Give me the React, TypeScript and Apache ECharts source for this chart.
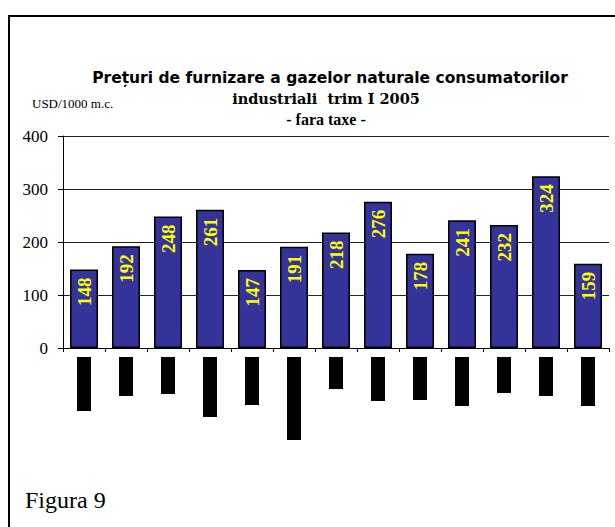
import React, { useEffect, useRef } from "react";
import * as echarts from "echarts";

// Categories (country names are hidden in the reference, drawn as black boxes)
const categories = ["C1", "C2", "C3", "C4", "C5", "C6", "C7", "C8", "C9", "C10", "C11", "C12", "C13"];
// Prices, USD/1000 m.c.
const prices = [148, 192, 248, 261, 147, 191, 218, 276, 178, 241, 232, 324, 159];
// Lengths of the black (hidden) category label boxes under the axis
const labelBoxLengths = [54, 39, 37, 60, 48, 83, 32, 44, 43, 49, 36, 39, 49];
const yTicks = [0, 100, 200, 300, 400];

const titleLine1 = "Prețuri de furnizare a gazelor naturale consumatorilor";
const titleLine2 = "industriali  trim I 2005";
const titleLine3 = "- fara taxe -";
const unitLabel = "USD/1000 m.c.";
const figureLabel = "Figura 9";

const SERIF = "Liberation Serif, Times New Roman, serif";

export default function App() {
  const ref = useRef<HTMLDivElement>(null);
  useEffect(() => {
    if (!ref.current) return;
    const chart = echarts.init(ref.current, null, { renderer: "svg" });
    chart.setOption({
      animation: false,
      backgroundColor: "#ffffff",
      grid: [
        { left: 63, top: 136, width: 546, height: 212 },
        { left: 63, top: 357, width: 546, height: 100 },
      ],
      xAxis: [
        {
          type: "category",
          gridIndex: 0,
          data: categories,
          axisLine: { show: true, lineStyle: { color: "#000", width: 1 } },
          axisTick: { show: true, length: 4, lineStyle: { color: "#000" } },
          axisLabel: { show: false },
          splitLine: { show: false },
        },
        {
          type: "category",
          gridIndex: 1,
          data: categories,
          axisLine: { show: false },
          axisTick: { show: false },
          axisLabel: { show: false },
        },
      ],
      yAxis: [
        {
          type: "value",
          gridIndex: 0,
          min: yTicks[0],
          max: yTicks[yTicks.length - 1],
          interval: 100,
          axisLine: { show: true, lineStyle: { color: "#000", width: 1 } },
          axisTick: { show: true, length: 5, lineStyle: { color: "#000" } },
          axisLabel: {
            show: true,
            margin: 15,
            fontFamily: SERIF,
            fontSize: 17,
            color: "#000",
          },
          splitLine: { show: true, lineStyle: { color: "#222", width: 1 } },
        },
        {
          type: "value",
          gridIndex: 1,
          min: 0,
          max: 100,
          inverse: true,
          show: false,
        },
      ],
      series: [
        {
          type: "bar",
          name: "Preț",
          xAxisIndex: 0,
          yAxisIndex: 0,
          data: prices,
          barWidth: 28,
          itemStyle: {
            color: "#333399",
            borderColor: "#000",
            borderWidth: 1.5,
          },
          label: {
            show: true,
            position: "insideTop",
            rotate: 90,
            align: "right",
            verticalAlign: "middle",
            distance: 8,
            color: "#FFFF00",
            fontFamily: SERIF,
            fontWeight: "bold",
            fontSize: 19,
          },
        },
        {
          type: "bar",
          name: "labels",
          xAxisIndex: 1,
          yAxisIndex: 1,
          data: labelBoxLengths,
          barWidth: 14,
          itemStyle: { color: "#000" },
          silent: true,
        },
      ],
      graphic: [
        {
          type: "polyline",
          shape: { points: [[9, 527], [9, 16], [615, 16]] },
          style: { stroke: "#000", lineWidth: 2, fill: "none" },
          silent: true,
        },
        {
          type: "text",
          x: 330,
          y: 78,
          style: {
            text: titleLine1,
            fontFamily: "DejaVu Sans, Arial, sans-serif",
            fontWeight: "bold",
            fontSize: 15.5,
            fill: "#000",
            align: "center",
            verticalAlign: "middle",
          },
        },
        {
          type: "text",
          x: 326,
          y: 98,
          style: {
            text: titleLine2,
            fontFamily: "DejaVu Serif, serif",
            fontWeight: "bold",
            fontSize: 14.5,
            fill: "#000",
            align: "center",
            verticalAlign: "middle",
          },
        },
        {
          type: "text",
          x: 326,
          y: 119,
          style: {
            text: titleLine3,
            fontFamily: SERIF,
            fontWeight: "bold",
            fontSize: 16,
            fill: "#000",
            align: "center",
            verticalAlign: "middle",
          },
        },
        {
          type: "text",
          x: 32,
          y: 103,
          style: {
            text: unitLabel,
            fontFamily: SERIF,
            fontSize: 13,
            fill: "#000",
            align: "left",
            verticalAlign: "middle",
          },
        },
        {
          type: "text",
          x: 25,
          y: 500,
          style: {
            text: figureLabel,
            fontFamily: SERIF,
            fontSize: 24,
            fill: "#000",
            align: "left",
            verticalAlign: "middle",
          },
        },
      ],
    });
    return () => chart.dispose();
  }, []);
  return (
    <div
      ref={ref}
      style={{ position: "fixed", left: 0, top: 0, width: 615, height: 527 }}
    />
  );
}
